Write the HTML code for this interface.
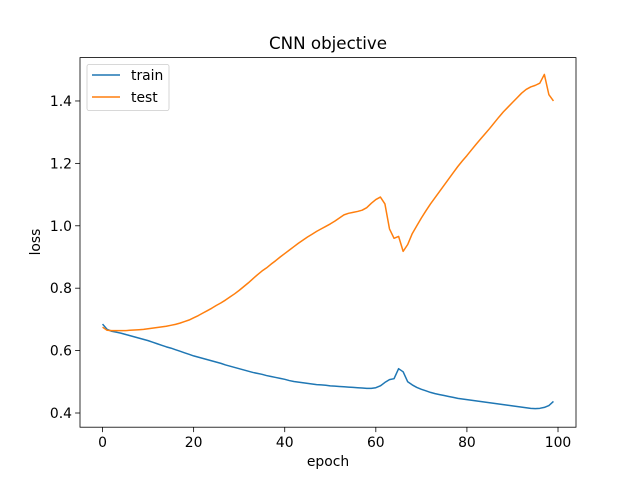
<!DOCTYPE html>
<html><head><meta charset="utf-8"><style>
body{margin:0;background:#fff}
svg{display:block;font-family:"DejaVu Sans","Liberation Sans",sans-serif}
</style></head><body>
<svg id="chart" width="640" height="480"></svg>
<script>
const epochs=[...Array(100).keys()];
const trainLoss=[0.685,0.668,0.662,0.659,0.656,0.652,0.648,0.644,0.640,0.636,0.632,0.627,0.622,0.617,0.612,0.608,0.603,0.598,0.593,0.588,0.583,0.579,0.575,0.571,0.567,0.563,0.559,0.554,0.550,0.546,0.542,0.538,0.534,0.530,0.527,0.524,0.520,0.517,0.514,0.511,0.508,0.504,0.501,0.499,0.497,0.495,0.493,0.491,0.490,0.489,0.487,0.486,0.485,0.484,0.483,0.482,0.481,0.480,0.479,0.479,0.481,0.487,0.498,0.507,0.510,0.542,0.532,0.500,0.490,0.482,0.476,0.471,0.466,0.462,0.459,0.456,0.453,0.450,0.447,0.445,0.443,0.441,0.439,0.437,0.435,0.433,0.431,0.429,0.427,0.425,0.423,0.421,0.419,0.417,0.415,0.414,0.415,0.418,0.424,0.437];
const testLoss=[0.675,0.665,0.664,0.664,0.664,0.664,0.665,0.666,0.667,0.668,0.670,0.672,0.674,0.676,0.678,0.681,0.684,0.688,0.693,0.698,0.705,0.712,0.720,0.728,0.736,0.745,0.753,0.762,0.772,0.782,0.793,0.805,0.817,0.830,0.843,0.855,0.865,0.877,0.888,0.900,0.911,0.922,0.933,0.944,0.954,0.964,0.973,0.982,0.990,0.998,1.006,1.015,1.025,1.035,1.040,1.043,1.046,1.050,1.058,1.072,1.084,1.092,1.070,0.990,0.960,0.966,0.918,0.940,0.975,1.000,1.025,1.048,1.070,1.090,1.110,1.130,1.150,1.170,1.190,1.208,1.225,1.243,1.261,1.278,1.295,1.312,1.330,1.348,1.365,1.380,1.395,1.410,1.425,1.437,1.445,1.450,1.457,1.485,1.420,1.400];
const xTicks=[0,20,40,60,80,100];
const yTicks=[0.4,0.6,0.8,1.0,1.2,1.4];
const yTickLabels=["0.4","0.6","0.8","1.0","1.2","1.4"];

const L=80,R=576,T=57.6,B=427.2;
const xmin=-4.95,xmax=103.95,ymin=0.3545,ymax=1.539;
const X=v=>L+(v-xmin)/(xmax-xmin)*(R-L);
const Y=v=>B-(v-ymin)/(ymax-ymin)*(B-T);
const svg=document.getElementById('chart');
const NS='http://www.w3.org/2000/svg';
function mk(tag,attrs,parent){const e=document.createElementNS(NS,tag);for(const k in attrs)e.setAttribute(k,attrs[k]);(parent||svg).appendChild(e);return e;}

function line(data,color,name){
  const d=data.map((v,i)=>(i?'L':'M')+X(epochs[i]).toFixed(2)+','+Y(v).toFixed(2)).join('');
  const p=mk('path',{d:d,fill:'none',stroke:color,'stroke-width':1.5,'stroke-linejoin':'round'});
  
  
}
line(trainLoss,'#1f77b4','train-line');
line(testLoss,'#ff7f0e','test-line');

const frame=mk('rect',{x:L,y:T,width:R-L,height:B-T,fill:'none',stroke:'#000','stroke-width':0.8});



xTicks.forEach(t=>{
  const x=X(t);
  const tk=mk('line',{x1:x,x2:x,y1:B,y2:B+4.9,stroke:'#000','stroke-width':0.8});
  
  
  const tx=mk('text',{x:x,y:B+20,'text-anchor':'middle','font-size':13.9});
  tx.textContent=t;
  
  
});
yTicks.forEach((t,i)=>{
  const y=Y(t);
  const tk=mk('line',{x1:L-4.9,x2:L,y1:y,y2:y,stroke:'#000','stroke-width':0.8});
  
  
  const tx=mk('text',{x:L-8,y:y+5,'text-anchor':'end','font-size':13.9});
  tx.textContent=yTickLabels[i];
  
  
});
</script>
<svg width="640" height="480" style="position:absolute;left:0;top:0">
<text x="328" y="49" text-anchor="middle" font-size="16.7">CNN objective</text>
<text x="328" y="466" text-anchor="middle" font-size="13.9">epoch</text>
<text x="0" y="0" transform="translate(40,242) rotate(-90)" text-anchor="middle" font-size="13.9">loss</text>
<g>
<rect x="87" y="64.5" width="82" height="46" rx="2" fill="#fff" fill-opacity="0.8" stroke="#ccc" stroke-width="0.8"/>
<g>
<line x1="92" x2="120" y1="75" y2="75" stroke="#1f77b4" stroke-width="1.5"/>
<text x="131" y="80" font-size="13.9">train</text></g>
<g>
<line x1="92" x2="120" y1="97" y2="97" stroke="#ff7f0e" stroke-width="1.5"/>
<text x="131" y="102" font-size="13.9">test</text></g>
</g>
</svg>
</body></html>
